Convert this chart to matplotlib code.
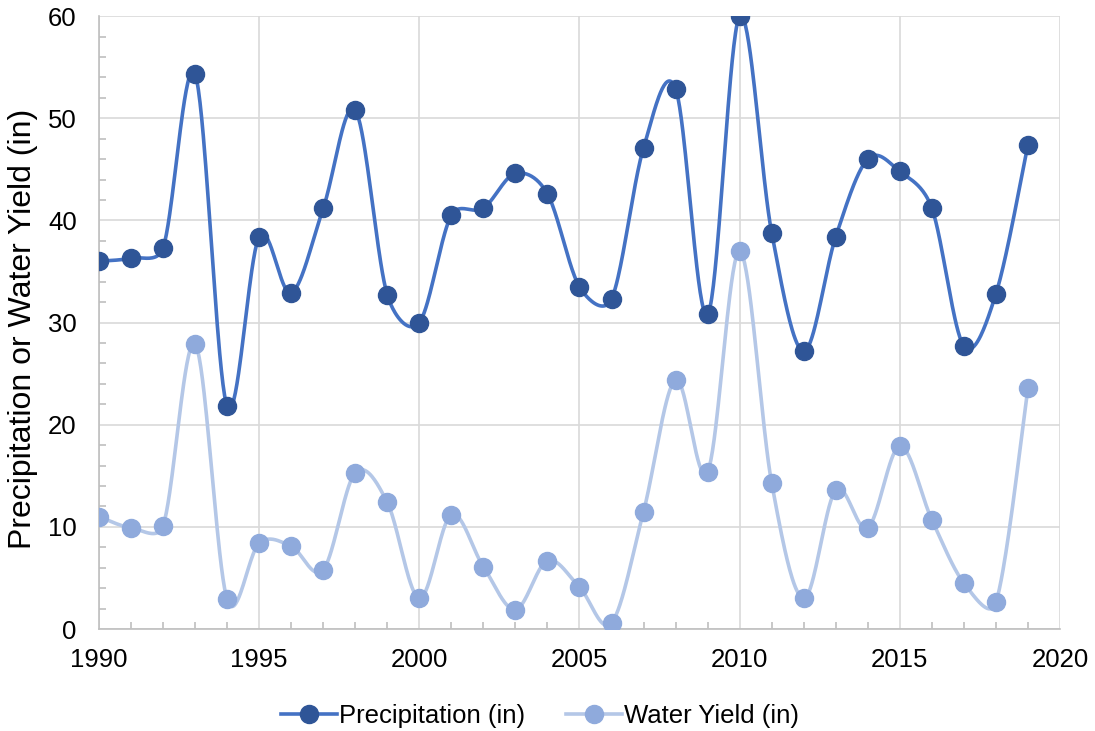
import numpy as np
import matplotlib
matplotlib.use("Agg")
import matplotlib.pyplot as plt
from matplotlib.ticker import MultipleLocator
from matplotlib.lines import Line2D

years = list(range(1990, 2020))
precip = [36.0, 36.3, 37.3, 54.3, 21.8, 38.4, 32.9, 41.2, 50.8, 32.7,
          30.0, 40.5, 41.2, 44.6, 42.6, 33.5, 32.3, 47.1, 52.9, 30.8,
          60.0, 38.8, 27.2, 38.4, 46.0, 44.8, 41.2, 27.7, 32.8, 47.4]
water_yield = [11.0, 9.9, 10.1, 27.9, 2.9, 8.4, 8.1, 5.8, 15.3, 12.4,
               3.0, 11.2, 6.1, 1.9, 6.7, 4.1, 0.6, 11.5, 24.4, 15.4,
               37.0, 14.3, 3.0, 13.6, 9.9, 17.9, 10.7, 4.5, 2.6, 23.6]

plt.rcParams['font.family'] = ['Liberation Sans', 'DejaVu Sans']


def smooth(ax, x, y, n=40):
    """Excel-style smoothed line, computed in display space."""
    pts = ax.transData.transform(np.column_stack([x, y]))
    N = len(pts)
    out = []
    for i in range(N - 1):
        p0 = pts[max(i - 1, 0)]
        p1 = pts[i]
        p2 = pts[i + 1]
        p3 = pts[min(i + 2, N - 1)]
        d02 = np.hypot(*(p2 - p0))
        d12 = np.hypot(*(p2 - p1))
        d13 = np.hypot(*(p3 - p1))
        f0 = 1 / 6 if d02 / 6 < d12 / 2 else d12 / d02 / 2
        f1 = 1 / 6 if d13 / 6 < d12 / 2 else d12 / d13 / 2
        c1 = p1 + (p2 - p0) * f0
        c2 = p2 - (p3 - p1) * f1
        t = np.linspace(0, 1, n)[:, None]
        b = ((1 - t) ** 3 * p1 + 3 * (1 - t) ** 2 * t * c1
             + 3 * (1 - t) * t ** 2 * c2 + t ** 3 * p2)
        out.append(b)
    out = np.vstack(out)
    d = ax.transData.inverted().transform(out)
    return d[:, 0], d[:, 1]


fig = plt.figure(figsize=(10.95, 7.31), dpi=100)
ax = fig.add_axes([0.0904, 0.1395, 0.8776, 0.8385])
ax.set_xlim(1990, 2020)
ax.set_ylim(0, 60)

c_line1, c_mark1 = '#4472C4', '#2F5597'
c_line2, c_mark2 = '#B4C7E7', '#8FAADC'
LW, MS = 2.6, 13

sx, sy = smooth(ax, years, water_yield)
ax.plot(sx, sy, color=c_line2, lw=LW, zorder=3, solid_capstyle='round')
ax.plot(years, water_yield, 'o', color=c_mark2, ms=MS, zorder=4)
sx, sy = smooth(ax, years, precip)
ax.plot(sx, sy, color=c_line1, lw=LW, zorder=3, solid_capstyle='round')
ax.plot(years, precip, 'o', color=c_mark1, ms=MS, zorder=4)

ax.set_xlim(1990, 2020)
ax.set_ylim(0, 60)
ax.xaxis.set_major_locator(MultipleLocator(5))
ax.xaxis.set_minor_locator(MultipleLocator(1))
ax.yaxis.set_major_locator(MultipleLocator(10))
ax.yaxis.set_minor_locator(MultipleLocator(2))
ax.grid(True, which='major', color='#D9D9D9', lw=1.2, zorder=0)
for s in ['top', 'right']:
    ax.spines[s].set_visible(False)
for s in ['left', 'bottom']:
    ax.spines[s].set_color('#BFBFBF')
    ax.spines[s].set_linewidth(1.2)
ax.tick_params(which='major', length=0, labelsize=18.5, colors='black')
ax.tick_params(axis='x', which='major', pad=14)
ax.tick_params(axis='y', which='major', pad=16)
ax.tick_params(which='minor', direction='in', length=5, color='#BFBFBF', width=1.2)
ax.set_ylabel('Precipitation or Water Yield (in)', fontsize=23)
ax.yaxis.set_label_coords(-0.063, 0.49)

handles = [Line2D([], [], color=c_line1, lw=LW, marker='o', ms=MS, mfc=c_mark1, mec=c_mark1),
           Line2D([], [], color=c_line2, lw=LW, marker='o', ms=MS, mfc=c_mark2, mec=c_mark2)]
fig.legend(handles, ['Precipitation (in)', 'Water Yield (in)'], loc='center',
           bbox_to_anchor=(0.493, 0.021), ncol=2, frameon=False, fontsize=18.5,
           handlelength=2.2, handletextpad=0.05, columnspacing=1.6,
           borderaxespad=0, borderpad=0)

fig.savefig('out.png', dpi=100)
